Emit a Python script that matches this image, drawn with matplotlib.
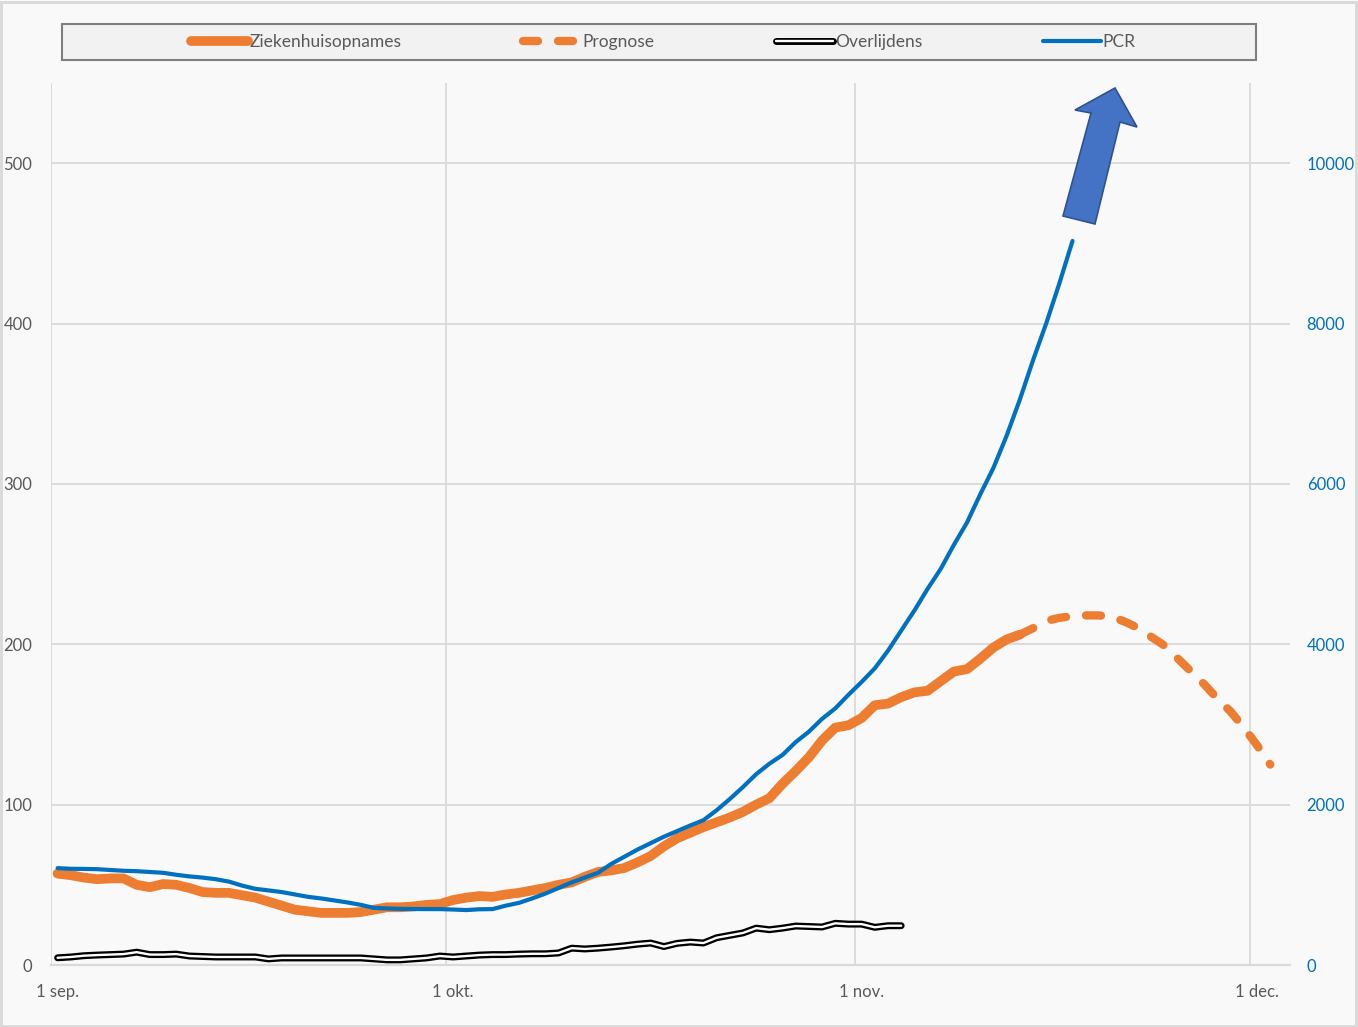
import numpy as np
import matplotlib
matplotlib.use('Agg')
import matplotlib.pyplot as plt
import matplotlib.patheffects as pe
from matplotlib.patches import Rectangle, Polygon

plt.rcParams['font.family'] = ['Lato', 'DejaVu Sans']

# days since 1 sep
ziekenhuis = [57, 56, 54.5, 53.5, 54, 54, 50, 48.5, 50.5, 50,
              48, 45.5, 45, 45, 43.5, 42, 39.5, 37, 34.5, 33.5,
              32.5, 32.5, 32.5, 33, 34.5, 36, 36, 36.5, 37.5, 38,
              40.5, 42, 43, 42.5, 44, 45, 46.5, 48, 50, 51.5,
              55, 58, 59, 60.5, 64, 68, 74, 79, 82.5, 86,
              89, 92, 95.5, 100, 104, 113, 121, 129.5, 140, 148,
              149.5, 154, 162, 163, 167, 170, 171, 177, 183, 184.5,
              191, 198, 203, 206]
prognose_start = 73
prognose = [206, 210, 214.5, 216.5, 217.5, 218, 218, 217, 214, 210,
            204.5, 199, 191, 183, 175, 166, 158, 148, 137, 125]
overlijdens = [4.5, 5, 5.8, 6.2, 6.5, 6.8, 8, 6.5, 6.5, 6.8,
               5.6, 5.3, 5, 5, 5, 5, 3.8, 4.4, 4.4, 4.4,
               4.4, 4.4, 4.4, 4.4, 3.8, 3.2, 3.2, 3.8, 4.4, 5.6,
               5, 5.6, 6.2, 6.5, 6.5, 6.8, 7, 7, 7.5, 10.5,
               10, 10.5, 11.2, 12, 13, 13.7, 11.5, 13.5, 14.3, 13.7,
               17, 18.5, 20, 23, 22, 23, 24.3, 24, 23.7, 26,
               25.5, 25.5, 23.5, 24.5, 24.5]
pcr = [1208, 1200, 1198, 1195, 1185, 1175, 1170, 1160, 1150, 1125,
       1105, 1090, 1070, 1040, 990, 950, 930, 910, 880, 850,
       830, 805, 780, 750, 712, 705, 700, 698, 697, 697,
       692, 685, 695, 697, 740, 775, 830, 890, 960, 1030,
       1090, 1150, 1260, 1350, 1440, 1520, 1600, 1670, 1740, 1806,
       1930, 2070, 2220, 2380, 2510, 2620, 2780, 2910, 3070, 3200,
       3370, 3530, 3700, 3920, 4170, 4420, 4690, 4940, 5240, 5520,
       5870, 6200, 6600, 7050, 7540, 8000, 8500, 9030]

month_days = [0, 30, 61, 91]
month_labels = ['1 sep.', '1 okt.', '1 nov.', '1 dec.']

orange = '#ED7D31'
blue = '#0070C0'
grey_txt = '#595959'
grid_c = '#D9D9D9'
bg = '#F9F9F9'

W, H = 1358, 1027
fig = plt.figure(figsize=(W / 100, H / 100), dpi=100, facecolor=bg)
ax = fig.add_axes([51 / W, 1 - 965 / H, (1290 - 51) / W, (965 - 83) / H])
ax.set_facecolor(bg)
ax2 = ax.twinx()

x_z = np.arange(len(ziekenhuis))
x_p = np.arange(prognose_start, prognose_start + len(prognose))
x_o = np.arange(len(overlijdens))
x_pcr = np.arange(len(pcr))

l_z, = ax.plot(x_z, ziekenhuis, color=orange, lw=7, solid_capstyle='round',
               solid_joinstyle='round', label='Ziekenhuisopnames', zorder=3)
l_p, = ax.plot(x_p, prognose, color=orange, lw=6, dash_capstyle='round',
               label='Prognose', zorder=3)
l_p.set_dashes((1.8, 2.4))
l_o, = ax.plot(x_o, overlijdens, color='white', lw=1.7, solid_capstyle='round',
               label='Overlijdens', zorder=3,
               path_effects=[pe.Stroke(linewidth=5.0, foreground='black',
                                       capstyle='round'), pe.Normal()])
l_pcr, = ax2.plot(x_pcr, pcr, color=blue, lw=3, solid_capstyle='round',
                  label='PCR', zorder=3)

ax.set_xlim(-0.5, 93.5)
ax.set_ylim(0, 550)
ax2.set_ylim(0, 11000)

ax.set_yticks([0, 100, 200, 300, 400, 500])
ax2.set_yticks([0, 2000, 4000, 6000, 8000, 10000])
ax.set_xticks(month_days)
ax.set_xticklabels(month_labels)
ax.set_xticks([d - 0.5 for d in month_days], minor=True)

ax.grid(True, axis='y', color=grid_c, lw=1.3, zorder=0)
ax.grid(True, axis='x', which='minor', color=grid_c, lw=1.3, zorder=0)
ax.set_axisbelow(True)

for a in (ax, ax2):
    for s in ['top', 'right', 'left']:
        a.spines[s].set_visible(False)
ax2.spines['bottom'].set_visible(False)
ax.spines['bottom'].set_color(grid_c)
ax.spines['bottom'].set_linewidth(1.6)

ax.tick_params(axis='y', length=0, pad=13.5, labelsize=12, labelcolor=grey_txt)
ax.tick_params(axis='x', which='both', length=0, pad=14, labelsize=12,
               labelcolor=grey_txt)
ax2.tick_params(axis='y', length=0, pad=12, labelsize=12, labelcolor=blue)

# legend frame
fig.patches.append(Rectangle((62 / W, 1 - 60 / H), (1256 - 62) / W, 36 / H,
                             transform=fig.transFigure, facecolor='#F2F2F2',
                             edgecolor='#7F7F7F', lw=1.5, zorder=1))
leg = fig.legend([l_z, l_p, l_o, l_pcr],
                 ['Ziekenhuisopnames', 'Prognose', 'Overlijdens', 'PCR'],
                 loc='center', bbox_to_anchor=(663 / W, 1 - 42 / H), ncol=4,
                 frameon=False, fontsize=12.5, handlelength=3.3,
                 handletextpad=0.1, columnspacing=7.0, labelcolor=grey_txt)
leg.set_zorder(2)

# outer border
fig.patches.append(Rectangle((1 / W, 1 / H), (W - 3) / W, (H - 3) / H,
                             transform=fig.transFigure, fill=False,
                             edgecolor=grid_c, lw=2))

# big arrow pointing up
arrow_px = [(1063, 216), (1095, 224), (1120, 122), (1137, 127),
            (1115, 88), (1075, 110), (1091, 113)]
arrow_pts = [(x / W, 1 - y / H) for x, y in arrow_px]
fig.patches.append(Polygon(arrow_pts, closed=True, transform=fig.transFigure,
                           facecolor='#4472C4', edgecolor='#2F528F', lw=1.2,
                           zorder=5))

fig.savefig('out.png', dpi=100, facecolor=bg)
